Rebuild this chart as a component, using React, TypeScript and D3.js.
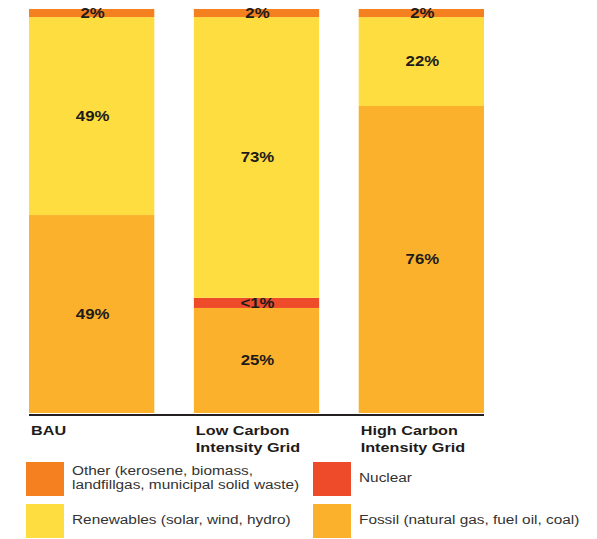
import React from "react";
import * as d3 from "d3";

const categories = ["BAU", "Low Carbon Intensity Grid", "High Carbon Intensity Grid"];
const categoryLines = [["BAU"], ["Low Carbon", "Intensity Grid"], ["High Carbon", "Intensity Grid"]];

// stacked from bottom: fossil, nuclear, renewables, other (shares as drawn)
const fossil = [49, 26, 76];
const nuclear = [0, 2.5, 0];
const renewables = [49, 69.5, 22];
const other = [2, 2, 2];

const fossilLabels = ["49%", "25%", "76%"];
const nuclearLabels = ["", "<1%", ""];
const renewablesLabels = ["49%", "73%", "22%"];
const otherLabels = ["2%", "2%", "2%"];

const seriesKeys = ["fossil", "nuclear", "renewables", "other"];
const seriesColors = ["#FBB12C", "#EE4B2B", "#FDDD3F", "#F4801F"];

const legendNames = [
  ["Other (kerosene, biomass,", "landfillgas, municipal solid waste)"],
  ["Nuclear"],
  ["Renewables (solar, wind, hydro)"],
  ["Fossil (natural gas, fuel oil, coal)"],
];
const legendColors = ["#F4801F", "#EE4B2B", "#FDDD3F", "#FBB12C"];

const font = "Arial, 'Liberation Sans', Helvetica, sans-serif";

function WideText(props: {
  x: number;
  y: number;
  sx: number;
  size: number;
  bold?: boolean;
  anchor?: string;
  baseline?: string;
  fill: string;
  children: React.ReactNode;
}) {
  return (
    <text
      transform={`translate(${props.x},${props.y}) scale(${props.sx},1)`}
      textAnchor={props.anchor || "start"}
      dominantBaseline={props.baseline || "auto"}
      fontSize={props.size}
      fontWeight={props.bold ? "bold" : "normal"}
      fill={props.fill}
      fontFamily={font}
    >
      {props.children}
    </text>
  );
}

export default function App() {
  const rows = categories.map((c, i) => ({
    cat: c,
    fossil: fossil[i],
    nuclear: nuclear[i],
    renewables: renewables[i],
    other: other[i],
  }));
  const labels: Record<string, string[]> = {
    fossil: fossilLabels,
    nuclear: nuclearLabels,
    renewables: renewablesLabels,
    other: otherLabels,
  };
  const stack = d3.stack<any>().keys(seriesKeys)(rows);
  const x = d3.scaleBand<string>().domain(categories).range([29, 484]).paddingInner(0.24).paddingOuter(0);
  const y = d3.scaleLinear().domain([0, 100]).range([413, 9]);

  return (
    <svg width={597} height={539} style={{ position: "absolute", left: 0, top: 0 }} fontFamily={font}>
      <rect width={597} height={539} fill="#fff" />
      {stack.map((s, si) =>
        s.map((d, i) => {
          const h = y(d[0]) - y(d[1]);
          if (h <= 0) return null;
          return (
            <rect
              key={`${si}-${i}`}
              x={x(categories[i])!}
              y={y(d[1])}
              width={x.bandwidth()}
              height={h}
              fill={seriesColors[si]}
            />
          );
        })
      )}
      {stack.map((s, si) =>
        s.map((d, i) => {
          const t = labels[seriesKeys[si]][i];
          if (!t) return null;
          const cy = (y(d[0]) + y(d[1])) / 2;
          return (
            <WideText
              key={`l${si}-${i}`}
              x={x(categories[i])! + x.bandwidth() / 2 + 1}
              y={cy + 1}
              sx={1.2}
              size={14}
              bold
              anchor="middle"
              baseline="middle"
              fill="#1e1b1a"
            >
              {t}
            </WideText>
          );
        })
      )}
      <line x1={29} x2={484} y1={415} y2={415} stroke="#231f20" strokeWidth={2} />
      {categoryLines.map((lines, i) =>
        lines.map((ln, j) => (
          <WideText
            key={`c${i}-${j}`}
            x={x(categories[i])! + 2}
            y={435 + j * 17}
            sx={1.2}
            size={13.5}
            bold
            fill="#1e1b1a"
          >
            {ln}
          </WideText>
        ))
      )}
      {legendNames.map((lines, k) => {
        const col = k % 2;
        const row = Math.floor(k / 2);
        const sx = col === 0 ? 26 : 313;
        const sy = row === 0 ? 462 : 504;
        const tx = sx + 46;
        const cy = sy + 17;
        return (
          <g key={`lg${k}`}>
            <rect x={sx} y={sy} width={38} height={34} fill={legendColors[k]} />
            {lines.map((ln, j) => (
              <WideText
                key={j}
                x={tx}
                y={cy + (j - (lines.length - 1) / 2) * 14}
                sx={1.23}
                size={12.5}
                baseline="middle"
                fill="#333"
              >
                {ln}
              </WideText>
            ))}
          </g>
        );
      })}
    </svg>
  );
}
